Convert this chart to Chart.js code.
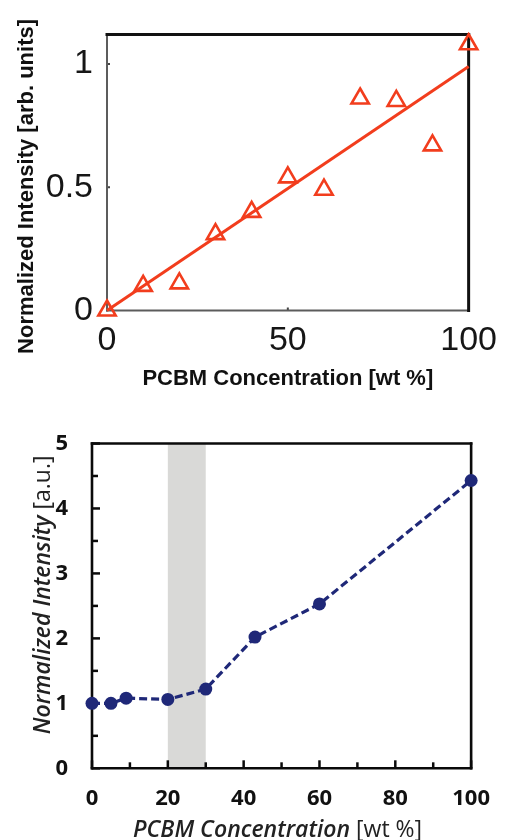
<!DOCTYPE html>
<html>
<head>
<meta charset="utf-8">
<script src="https://cdn.jsdelivr.net/npm/chart.js@4.4.1/dist/chart.umd.min.js"></script>
<style>
  html, body { margin: 0; padding: 0; background: #fff; }
  body { width: 507px; height: 840px; position: relative; overflow: hidden; }
  canvas { position: absolute; left: 0; }
  #upper { top: 0; }
  #lower { top: 400px; }
</style>
</head>
<body>
<canvas id="upper" width="507" height="400"></canvas>
<canvas id="lower" width="507" height="440"></canvas>
<script>
// ---- Upper panel: intensity vs PCBM content with a linear fit ----
const pcbmUpper      = [0, 10, 20, 30, 40, 50, 60, 70, 80, 90, 100];
const intensityUpper = [0.00, 0.10, 0.11, 0.31, 0.40, 0.54, 0.49, 0.86, 0.85, 0.67, 1.08];
const fitX = [0, 100];
const fitY = [0, 0.99];
const upperXTicks = [0, 50, 100];
const upperYTicks = [0, 0.5, 1];

// ---- Lower panel: intensity vs PCBM content, dashed guide ----
const pcbmLower      = [0, 5, 9, 20, 30, 43, 60, 100];
const intensityLower = [1.00, 1.00, 1.08, 1.06, 1.22, 2.02, 2.53, 4.43];
const shadedRange = [20, 30];
const lowerXTicks = [0, 20, 40, 60, 80, 100];
const lowerYTicks = [0, 1, 2, 3, 4, 5];
const lowerXMinor = [10, 30, 50, 70, 90];
const lowerYMinor = [0.5, 1.5, 2.5, 3.5, 4.5];

const RED  = '#f23d1d';
const NAVY = '#1f2878';

// Frame, inward tick marks and optional shaded band, drawn under the data
const framePlugin = {
  id: 'frame',
  beforeDatasetsDraw(chart, args, o) {
    const { ctx, chartArea: a, scales: { x, y } } = chart;
    ctx.save();
    if (o.band) {
      const x0 = x.getPixelForValue(o.band[0]);
      const x1 = x.getPixelForValue(o.band[1]);
      ctx.fillStyle = o.bandColor;
      ctx.fillRect(x0, a.top, x1 - x0, a.bottom - a.top);
    }
    ctx.lineCap = 'butt';
    (o.ticks || []).forEach(t => {
      ctx.strokeStyle = t.color;
      ctx.lineWidth = t.width;
      t.values.forEach(v => {
        ctx.beginPath();
        if (t.axis === 'x') {
          const px = x.getPixelForValue(v);
          ctx.moveTo(px, a.bottom);
          ctx.lineTo(px, a.bottom - t.len);
        } else {
          const py = y.getPixelForValue(v);
          ctx.moveTo(a.left, py);
          ctx.lineTo(a.left + t.len, py);
        }
        ctx.stroke();
      });
    });
    ctx.lineCap = 'square';
    const s = o.sides;
    const line = (st, x0, y0, x1, y1) => {
      ctx.strokeStyle = st.color;
      ctx.lineWidth = st.width;
      ctx.beginPath();
      ctx.moveTo(x0, y0);
      ctx.lineTo(x1, y1);
      ctx.stroke();
    };
    line(s.left, a.left, a.top, a.left, a.bottom);
    line(s.bottom, a.left, a.bottom, a.right, a.bottom);
    line(s.top, a.left, a.top, a.right, a.top);
    line(s.right, a.right, a.top, a.right, a.bottom);
    ctx.restore();
  }
};

// Axis titles made of differently styled runs
const titlePlugin = {
  id: 'axisTitles',
  afterDraw(chart, args, o) {
    const { ctx, chartArea: a } = chart;
    const drawRuns = (runs, cx, baseY) => {
      let total = 0;
      runs.forEach(r => { ctx.font = r.font; total += ctx.measureText(r.text).width; });
      let px = cx - total / 2;
      runs.forEach(r => {
        ctx.font = r.font;
        ctx.fillText(r.text, px, baseY);
        px += ctx.measureText(r.text).width;
      });
    };
    ctx.save();
    ctx.fillStyle = o.color;
    ctx.textBaseline = 'alphabetic';
    ctx.textAlign = 'left';
    // horizontal title below the plot
    drawRuns(o.x.runs, (a.left + a.right) / 2 + o.x.dx, a.bottom + o.x.dy);
    // vertical title left of the plot
    ctx.translate(a.left - o.y.dx, (a.top + a.bottom) / 2 + o.y.dy);
    ctx.rotate(-Math.PI / 2);
    drawRuns(o.y.runs, 0, 0);
    ctx.restore();
  }
};

const fixedTicks = list => scale => { scale.ticks = list.map(v => ({ value: v })); };
const plainLabel = v => String(v);

// ---------------- upper chart ----------------
new Chart(document.getElementById('upper'), {
  type: 'scatter',
  data: {
    datasets: [
      {
        data: fitX.map((v, i) => ({ x: v, y: fitY[i] })),
        showLine: true,
        borderColor: RED,
        borderWidth: 3,
        pointRadius: 0,
        clip: false
      },
      {
        data: pcbmUpper.map((v, i) => ({ x: v, y: intensityUpper[i] })),
        showLine: false,
        pointStyle: 'triangle',
        pointRadius: 10,
        borderColor: RED,
        borderWidth: 2.6,
        backgroundColor: 'rgba(0,0,0,0)',
        clip: false
      }
    ]
  },
  options: {
    responsive: false,
    animation: false,
    events: [],
    layout: { padding: { top: 22, right: 37, left: 0, bottom: 0 } },
    scales: {
      x: {
        type: 'linear', min: 0, max: 100,
        afterBuildTicks: fixedTicks(upperXTicks),
        afterFit: s => { s.height = 89.5; },
        grid: { display: false, drawTicks: false },
        border: { display: false },
        ticks: { padding: 10, color: '#161616', callback: plainLabel, font: { family: 'Liberation Sans', size: 34 } }
      },
      y: {
        type: 'linear', min: 0, max: 1.12,
        afterBuildTicks: fixedTicks(upperYTicks),
        afterFit: s => { s.width = 107; },
        grid: { display: false, drawTicks: false },
        border: { display: false },
        ticks: { padding: 14, color: '#161616', callback: plainLabel, font: { family: 'Liberation Sans', size: 34 } }
      }
    },
    plugins: {
      legend: { display: false },
      tooltip: { enabled: false },
      frame: {
        sides: {
          left:   { color: '#5c5c5c', width: 2 },
          bottom: { color: '#5c5c5c', width: 2 },
          top:    { color: '#111', width: 3 },
          right:  { color: '#111', width: 3 }
        },
        ticks: [
          { axis: 'x', values: [50], len: 3, width: 2, color: '#444' },
          { axis: 'y', values: [0.5, 1], len: 3, width: 2, color: '#444' }
        ]
      },
      axisTitles: {
        color: '#111',
        x: { runs: [{ text: 'PCBM Concentration [wt %]', font: 'bold 22px "Liberation Sans"' }], dx: 0, dy: 74.5 },
        y: { runs: [{ text: 'Normalized Intensity [arb. units]', font: 'bold 22px "Liberation Sans"' }], dx: 74, dy: 14 }
      }
    }
  },
  plugins: [framePlugin, titlePlugin]
});

// ---------------- lower chart ----------------
const italicFont = '600 italic 23px "Open Sans"';
const uprightFont = '500 23px "Open Sans"';
const lowerTickFont = { family: 'Open Sans', weight: 'bold', size: 22 };

new Chart(document.getElementById('lower'), {
  type: 'scatter',
  data: {
    datasets: [
      {
        data: pcbmLower.map((v, i) => ({ x: v, y: intensityLower[i] })),
        showLine: true,
        borderColor: NAVY,
        borderWidth: 3.2,
        borderDash: [8, 4],
        pointRadius: 6.5,
        pointBackgroundColor: NAVY,
        pointBorderWidth: 0,
        clip: false
      }
    ]
  },
  options: {
    responsive: false,
    animation: false,
    events: [],
    layout: { padding: { top: 43.5, right: 21, left: 0, bottom: 0 } },
    scales: {
      x: {
        type: 'linear', min: 0, max: 100,
        afterBuildTicks: fixedTicks(lowerXTicks),
        afterFit: s => { s.height = 71.7; },
        grid: { display: false, drawTicks: false },
        border: { display: false },
        ticks: { padding: 17, color: '#111', callback: plainLabel, font: lowerTickFont }
      },
      y: {
        type: 'linear', min: 0, max: 5,
        afterBuildTicks: fixedTicks(lowerYTicks),
        afterFit: s => { s.width = 92; },
        grid: { display: false, drawTicks: false },
        border: { display: false },
        ticks: { padding: 24, color: '#111', callback: plainLabel, font: lowerTickFont }
      }
    },
    plugins: {
      legend: { display: false },
      tooltip: { enabled: false },
      frame: {
        band: shadedRange,
        bandColor: '#d9d9d7',
        sides: {
          left:   { color: '#0a0a0a', width: 2.6 },
          bottom: { color: '#0a0a0a', width: 2.6 },
          top:    { color: '#0a0a0a', width: 2.6 },
          right:  { color: '#0a0a0a', width: 2.6 }
        },
        ticks: [
          { axis: 'x', values: lowerXTicks, len: 8, width: 2.5, color: '#0a0a0a' },
          { axis: 'x', values: lowerXMinor, len: 6, width: 2.5, color: '#0a0a0a' },
          { axis: 'y', values: lowerYTicks, len: 8, width: 2.5, color: '#0a0a0a' },
          { axis: 'y', values: lowerYMinor, len: 6, width: 2.5, color: '#0a0a0a' }
        ]
      },
      axisTitles: {
        color: '#222',
        x: { runs: [{ text: 'PCBM Concentration ', font: italicFont }, { text: '[wt %]', font: uprightFont }], dx: -4, dy: 68.4 },
        y: { runs: [{ text: 'Normalized Intensity ', font: italicFont }, { text: '[a.u.]', font: uprightFont }], dx: 42, dy: -11 }
      }
    }
  },
  plugins: [framePlugin, titlePlugin]
});
</script>
</body>
</html>
